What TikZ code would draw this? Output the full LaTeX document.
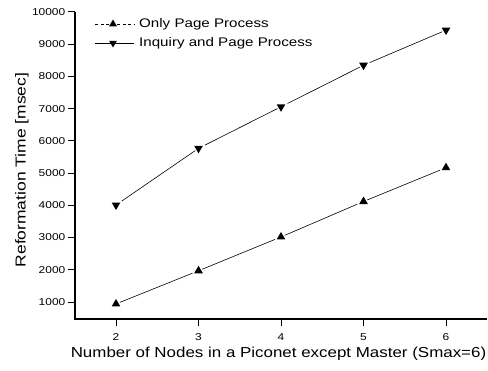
\documentclass[tikz,border=0pt]{standalone}
\usepackage{fontspec}
\setmainfont{Liberation Sans}
\usetikzlibrary{shapes.geometric}
% horizontally widened text
\newcommand{\widetext}[2]{\scalebox{#1}[1]{#2}}
\begin{document}
\begin{tikzpicture}[x=1bp,y=1bp,
  axisline/.style={line width=1.2bp},
  tickline/.style={line width=1bp},
  ticklbl/.style={font=\fontsize{10}{11}\selectfont, inner sep=0pt},
  axislbl/.style={font=\fontsize{14.5}{16}\selectfont, inner sep=0pt},
  legendlbl/.style={font=\fontsize{12.5}{14}\selectfont, inner sep=0pt, anchor=west},
  upmark/.style={regular polygon, regular polygon sides=3, fill=black, inner sep=0pt, minimum size=10bp, outer sep=1.5bp},
  downmark/.style={upmark, shape border rotate=180},
  series/.style={line width=0.6bp}
]
\useasboundingbox (0,0) rectangle (488,370);

% axes (y measured upwards from the bottom edge)
\draw[axisline] (75,358) -- (75,51) -- (487,51);

% y ticks and labels
\foreach \v [evaluate=\v as \yy using {68+(\v-1000)*0.032222}] in {1000,2000,...,10000}{
  \draw[tickline] (68,\yy) -- (75,\yy);
  \node[ticklbl, anchor=east] at (65.5,\yy) {\widetext{1.2}{\v}};
}
% x ticks and labels
\foreach \n [evaluate=\n as \xx using {116+(\n-2)*82.5}] in {2,...,6}{
  \draw[tickline] (\xx,51) -- (\xx,44);
  \node[ticklbl] at (\xx,33) {\widetext{1.2}{\n}};
}

% axis titles
\node[axislbl] (xt) at (278.5,16) {\widetext{1.172}{Number of Nodes in a Piconet except Master (Smax=6)}};
\node[axislbl, rotate=90] (yt) at (22,200) {\widetext{1.21}{Reformation Time [msec]}};

% data, in axis units
\begin{scope}[x=82.5bp, y=0.032222bp, shift={(-49bp,35.78bp)}]
  \node[upmark] (a2) at (2,940) {};
  \node[upmark] (a3) at (3,1970) {};
  \node[upmark] (a4) at (4,3020) {};
  \node[upmark] (a5) at (5,4120) {};
  \node[upmark] (a6) at (6,5170) {};
  \node[downmark] (b2) at (2,4010) {};
  \node[downmark] (b3) at (3,5770) {};
  \node[downmark] (b4) at (4,7060) {};
  \node[downmark] (b5) at (5,8350) {};
  \node[downmark] (b6) at (6,9440) {};
\end{scope}
\draw[series] (a2) -- (a3) -- (a4) -- (a5) -- (a6);
\draw[series] (b2) -- (b3) -- (b4) -- (b5) -- (b6);

% legend
\coordinate (la0) at (95,346);
\coordinate (la1) at (134,346);
\node[upmark, minimum size=9bp, outer sep=0pt] (lam) at (113,346) {};
\draw[series, dash pattern=on 3bp off 2.5bp] (la0) -- (la1);
\node[legendlbl] (lat) at (139,346) {\widetext{1.215}{Only Page Process}};
\coordinate (lb0) at (95,327);
\coordinate (lb1) at (134,327);
\node[downmark, minimum size=9bp, outer sep=0pt] (lbm) at (113,327) {};
\draw[series] (lb0) -- (lb1);
\node[legendlbl] (lbt) at (139,327) {\widetext{1.215}{Inquiry and Page Process}};
\end{tikzpicture}
\end{document}
